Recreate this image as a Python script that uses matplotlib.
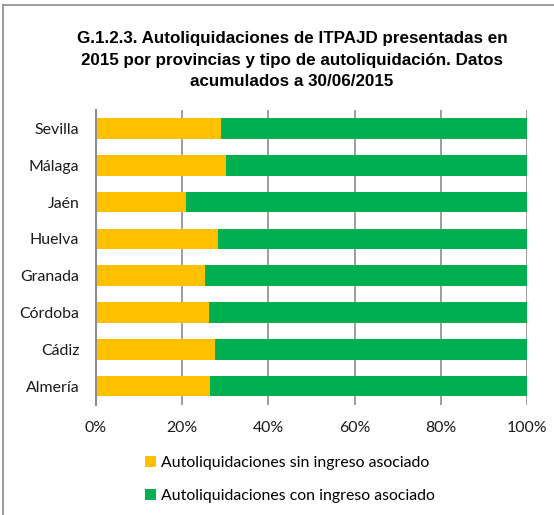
import matplotlib
matplotlib.use("Agg")
import matplotlib.pyplot as plt
from matplotlib.lines import Line2D
from matplotlib.patches import Patch

provincias = ["Sevilla", "Málaga", "Jaén", "Huelva", "Granada", "Córdoba", "Cádiz", "Almería"]
sin_ingreso = [29.0, 30.1, 20.9, 28.4, 25.3, 26.3, 27.7, 26.4]
con_ingreso = [100 - v for v in sin_ingreso]
serie_labels = ["Autoliquidaciones sin ingreso asociado", "Autoliquidaciones con ingreso asociado"]
colores = ["#FFC000", "#00B050"]
xticks = [0, 20, 40, 60, 80, 100]
titulo = ("G.1.2.3. Autoliquidaciones de ITPAJD presentadas en\n"
          "2015 por provincias y tipo de autoliquidación. Datos\n"
          "acumulados a 30/06/2015")

plt.rcParams['font.family'] = ['Lato', 'DejaVu Sans']

W, H = 554, 515
fig = plt.figure(figsize=(W / 100, H / 100), dpi=100)
ax = fig.add_axes([96 / W, 1 - 404.5 / H, (527 - 96) / W, (404.5 - 110) / H])

y = list(range(len(provincias)))[::-1]
ax.barh(y, sin_ingreso, height=0.56, color=colores[0], label=serie_labels[0], zorder=3)
ax.barh(y, con_ingreso, left=sin_ingreso, height=0.56, color=colores[1], label=serie_labels[1], zorder=3)

fs = 11.4
ax.set_xlim(0, 100)
ax.set_ylim(-0.5, len(provincias) - 0.5)
ax.set_yticks(y)
ax.set_yticklabels(provincias, fontsize=fs, color="#1a1a1a")
ax.set_xticks(xticks)
ax.set_xticklabels([f"{t}%" for t in xticks], fontsize=fs, color="#1a1a1a")
ax.tick_params(axis="y", length=0, pad=12)
ax.tick_params(axis="x", length=0, pad=12)
ax.grid(axis="x", color="#8c8c8c", linewidth=1.2, zorder=0)
for s in ["top", "right", "bottom"]:
    ax.spines[s].set_visible(False)
ax.spines["left"].set_color("#8c8c8c")
ax.spines["left"].set_linewidth(1.5)
ax.spines["left"].set_zorder(4)

t = fig.text(292 / W, 1 - 60 / H, titulo, ha="center", va="center",
             fontsize=13, fontweight="bold", linespacing=1.55,
             family=['Liberation Sans', 'DejaVu Sans'])
fig.canvas.draw()
bb = t.get_window_extent()
if bb.width > 0:
    t.set_fontsize(13 * 431 / bb.width)

handles = [Patch(facecolor=c, edgecolor="none") for c in colores]
for i, (h, lab) in enumerate(zip(handles, serie_labels)):
    fig.legend([h], [lab], loc="center left", bbox_to_anchor=(145 / W, 1 - (463 + 33 * i) / H),
               frameon=False, fontsize=fs, handlelength=0.7, handleheight=0.7,
               handletextpad=0.3, borderaxespad=0, borderpad=0)

# outer frame (top and left edges visible)
fig.add_artist(Line2D([2.5 / W, 1], [1 - 5 / H, 1 - 5 / H], color="#8c8c8c", linewidth=1.2))
fig.add_artist(Line2D([2.5 / W, 2.5 / W], [1 - 5 / H, 0], color="#8c8c8c", linewidth=1.2))

fig.savefig("out.png", dpi=100)
